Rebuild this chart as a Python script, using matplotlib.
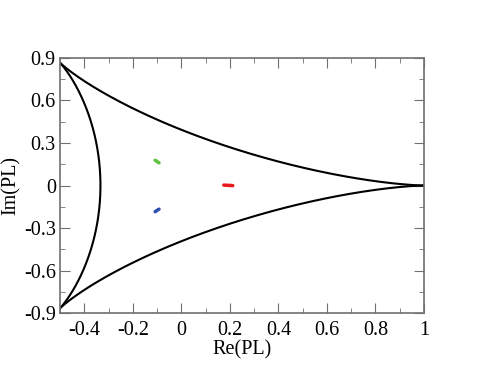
import numpy as np
import matplotlib
matplotlib.use("Agg")
import matplotlib.pyplot as plt
from matplotlib.ticker import MultipleLocator

# cusps of the SU(3) Polyakov-loop domain (deltoid), angle in units of 2*pi/3
cusp_index = [0, 1, 2]

# small clusters of Polyakov-loop values (Re, Im)
green_re = [-0.108, -0.102, -0.097, -0.092]
green_im = [0.178, 0.172, 0.166, 0.160]
blue_re = [-0.108, -0.102, -0.097, -0.092]
blue_im = [-0.185, -0.178, -0.172, -0.167]
red_re = [0.175, 0.185, 0.195, 0.205, 0.212]
red_im = [0.003, 0.002, 0.001, 0.000, -0.001]

plt.rcParams["font.family"] = ["Liberation Serif", "DejaVu Serif"]

fig = plt.figure(figsize=(4.84, 3.74), dpi=100)
ax = fig.add_axes([0.124, 0.163, 0.752, 0.682])

# boundary: L = (2 e^{i t} + e^{-2 i t}) / 3 between neighbouring cusps
for k in cusp_index:
    t = np.linspace(2 * np.pi * k / 3, 2 * np.pi * (k + 1) / 3, 400)
    L = (2 * np.exp(1j * t) + np.exp(-2j * t)) / 3
    ax.plot(L.real, L.imag, color="black", lw=1.5)

ax.plot(green_re, green_im, color="#5ec240", lw=2.5, solid_capstyle="round")
ax.plot(blue_re, blue_im, color="#3050b0", lw=2.5, solid_capstyle="round")
ax.plot(red_re, red_im, color="#e8191c", lw=2.5, solid_capstyle="round")

ax.set_xlim(-0.5, 1.0)
ax.set_ylim(-0.9, 0.9)
ax.xaxis.set_major_locator(MultipleLocator(0.2))
ax.xaxis.set_minor_locator(MultipleLocator(0.1))
ax.yaxis.set_major_locator(MultipleLocator(0.3))
ax.yaxis.set_minor_locator(MultipleLocator(0.15))
ax.set_xticks([-0.4, -0.2, 0, 0.2, 0.4, 0.6, 0.8, 1.0])
ax.set_xticklabels(["-0.4", "-0.2", "0", "0.2", "0.4", "0.6", "0.8", "1"])
ax.set_yticks([-0.9, -0.6, -0.3, 0, 0.3, 0.6, 0.9])
ax.set_yticklabels(["-0.9", "-0.6", "-0.3", "0", "0.3", "0.6", "0.9"])

ax.tick_params(which="both", direction="in", top=True, right=True,
               color="#707070", labelsize=14.5)
ax.tick_params(axis="x", pad=6)
ax.tick_params(axis="y", pad=3)
ax.tick_params(which="major", length=7)
ax.tick_params(which="minor", length=3.5)
for s in ax.spines.values():
    s.set_color("#707070")
    s.set_linewidth(1.2)

ax.set_xlabel("Re(PL)", fontsize=14.5, labelpad=0)
ax.set_ylabel("Im(PL)", fontsize=14.5, labelpad=2)

fig.savefig("out.png", dpi=100)
